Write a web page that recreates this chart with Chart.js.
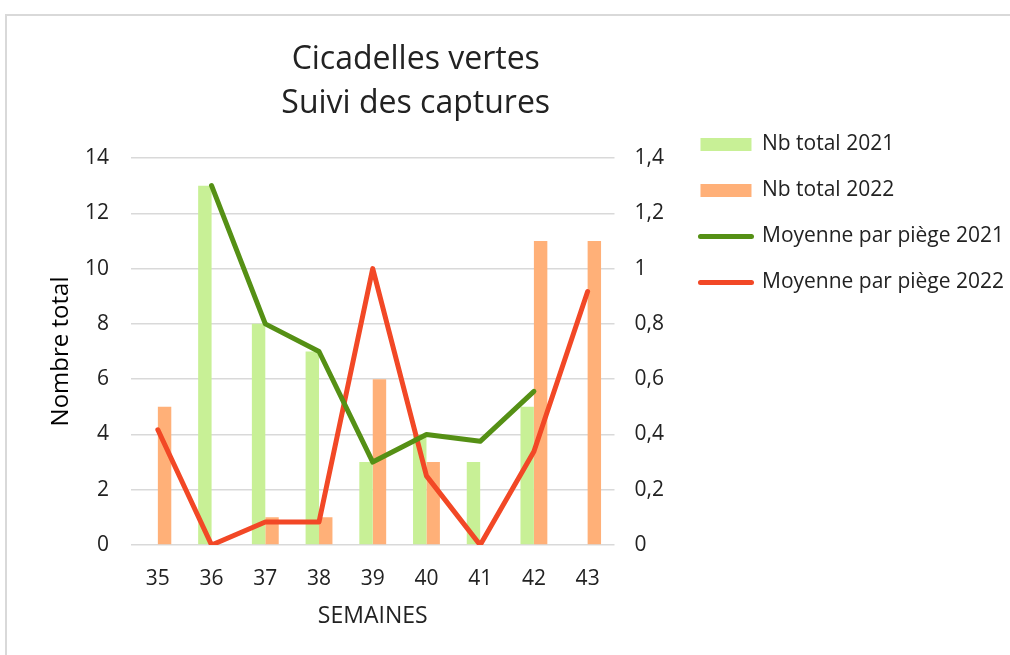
<!DOCTYPE html>
<html lang="fr">
<head>
<meta charset="utf-8">
<title>Cicadelles vertes - Suivi des captures</title>
<script src="https://cdn.jsdelivr.net/npm/chart.js@4"></script>
<style>
  html, body { margin: 0; padding: 0; background: #ffffff; }
  #wrap { position: relative; width: 1010px; height: 655px; overflow: hidden; }
  #frame {
    position: absolute; left: 5px; top: 14px; width: 1020px; height: 660px;
    border: 2px solid #d9d9d9; box-sizing: border-box; pointer-events: none;
  }
  canvas { position: absolute; left: 0; top: 0; }
</style>
</head>
<body>
<div id="wrap">
  <div id="frame"></div>
  <canvas id="chart" width="1010" height="655"></canvas>
</div>
<script>
// Weeks of the survey
const semaines = ['35', '36', '37', '38', '39', '40', '41', '42', '43'];

// Total catches per week
const nbTotal2021 = [null, 13, 8, 7, 3, 4, 3, 5, null];
const nbTotal2022 = [5, 0, 1, 1, 6, 3, 0, 11, 11];

// Average catches per trap
const moyenne2021 = [null, 1.3, 0.8, 0.7, 0.3, 0.4, 0.375, 0.556, null];
const moyenne2022 = [0.417, 0, 0.083, 0.083, 1.0, 0.25, 0, 0.338, 0.917];

const titre = ['Cicadelles vertes', 'Suivi des captures'];

const FONT = '"Open Sans", "Noto Sans", sans-serif';
const TEXT = '#222222';

// Keeps the title centred over plot + right axis, and the legend level with the plot top
const placement = {
  id: 'placement',
  afterLayout(chart) {
    const area = chart.chartArea;
    const lg = chart.legend;
    const pad = chart.options.plugins.legend.labels.padding;
    if (chart.titleBlock) {
      chart.titleBlock.left = area.left;
      chart.titleBlock.right = lg.left + pad;
    }
    const h = lg.height;
    lg.top = area.top - 49;
    lg.bottom = lg.top + h;
  }
};

const bar = (label, data, color) => ({
  type: 'bar', label, data, backgroundColor: color, borderWidth: 0,
  yAxisID: 'y', order: 2, categoryPercentage: 0.5, barPercentage: 1.0
});
const line = (label, data, color) => ({
  type: 'line', label, data, borderColor: color, backgroundColor: color,
  borderWidth: 5, pointRadius: 0, pointHoverRadius: 0, tension: 0,
  borderCapStyle: 'round', borderJoinStyle: 'round',
  yAxisID: 'y1', order: 1, spanGaps: false
});

new Chart(document.getElementById('chart'), {
  data: {
    labels: semaines,
    datasets: [
      bar('Nb total 2021', nbTotal2021, '#c8f096'),
      bar('Nb total 2022', nbTotal2022, '#ffb078'),
      line('Moyenne par piège 2021', moyenne2021, '#559015'),
      line('Moyenne par piège 2022', moyenne2022, '#f24826')
    ]
  },
  plugins: [placement],
  options: {
    responsive: false,
    animation: false,
    devicePixelRatio: 1,
    layout: { padding: { left: 40, top: 14, right: -4, bottom: 10 } },
    plugins: {
      title: {
        display: true,
        text: titre,
        color: TEXT,
        font: { family: FONT, size: 32, weight: 'normal', lineHeight: 1.375 },
        padding: { top: 24, bottom: 32 }
      },
      legend: {
        position: 'right',
        align: 'start',
        maxWidth: 345,
        labels: {
          color: TEXT,
          font: { family: FONT, size: 21 },
          padding: 25,
          usePointStyle: true,
          pointStyleWidth: 51,
          boxHeight: 13,
          generateLabels(chart) {
            return chart.data.datasets.map((ds, i) => {
              const isLine = ds.type === 'line';
              return {
                text: ds.label,
                datasetIndex: i,
                fillStyle: isLine ? 'rgba(0,0,0,0)' : ds.backgroundColor,
                strokeStyle: isLine ? ds.borderColor : 'rgba(0,0,0,0)',
                lineWidth: isLine ? 5 : 0,
                lineCap: 'round',
                pointStyle: isLine ? 'line' : 'rect',
                fontColor: TEXT,
                hidden: false
              };
            });
          }
        }
      },
      tooltip: { enabled: false }
    },
    scales: {
      x: {
        offset: true,
        grid: { display: false },
        border: { display: false },
        ticks: { color: TEXT, font: { family: FONT, size: 21 }, padding: 13, maxRotation: 0 },
        title: {
          display: true, text: 'SEMAINES', color: TEXT,
          font: { family: FONT, size: 23 }, padding: { top: 0, bottom: 15 }
        },
        afterFit(s) { s.height = 100; }
      },
      y: {
        position: 'left',
        min: 0, max: 14,
        ticks: { stepSize: 2, color: TEXT, font: { family: FONT, size: 21 }, padding: 22 },
        grid: { color: '#d9d9d9', lineWidth: 1.5, drawTicks: false },
        border: { display: false },
        title: {
          display: true, text: 'Nombre total', color: '#000000',
          font: { family: FONT, size: 24 }, padding: { top: 7, bottom: 0 }
        },
        afterFit(s) { s.width = 91; }
      },
      y1: {
        position: 'right',
        min: 0, max: 1.4,
        ticks: {
          stepSize: 0.2, color: TEXT, font: { family: FONT, size: 21 }, padding: 20,
          callback: v => String(Math.round(v * 10) / 10).replace('.', ',')
        },
        grid: { display: false, drawTicks: false },
        border: { display: false },
        afterFit(s) { s.width = 61; }
      }
    }
  }
});
</script>
</body>
</html>
